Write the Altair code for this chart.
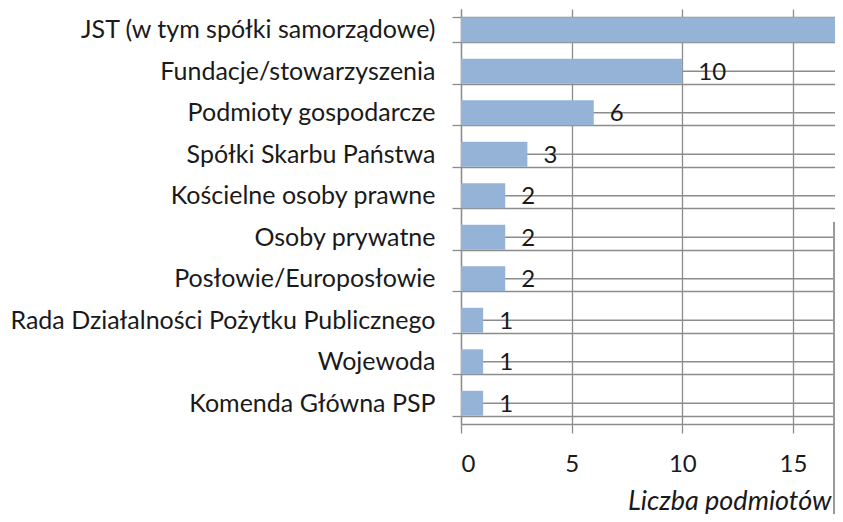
import altair as alt
import pandas as pd

categories = [
    "JST (w tym spółki samorządowe)",
    "Fundacje/stowarzyszenia",
    "Podmioty gospodarcze",
    "Spółki Skarbu Państwa",
    "Kościelne osoby prawne",
    "Osoby prywatne",
    "Posłowie/Europosłowie",
    "Rada Działalności Pożytku Publicznego",
    "Wojewoda",
    "Komenda Główna PSP",
]
values = [22, 10, 6, 3, 2, 2, 2, 1, 1, 1]
x_ticks = [0, 5, 10, 15]
x_title = "Liczba podmiotów"
x_max = 16.9

df = pd.DataFrame({"cat": categories, "val": values})

FONT = "Lato"
GRID = "#8c8c8c"
TEXT = "#1a1a1a"
BAR = "#95B3D7"

W, H = 374, 415

x_scale = alt.Scale(domain=[0, x_max], nice=False, zero=True)
y_scale = alt.Scale(domain=categories, paddingInner=0.4)

x_axis = alt.Axis(
    values=x_ticks, grid=True, gridColor=GRID, gridWidth=1.3,
    domainColor=GRID, domainWidth=1.3, tickColor=GRID, tickWidth=1.3, tickSize=9,
    labelFont=FONT, labelFontSize=24, labelColor=TEXT, labelPadding=19,
    title=x_title, titleFont=FONT, titleFontSize=27, titleFontStyle="italic",
    titleFontWeight="normal", titleColor=TEXT, titleAlign="right", titleAnchor="end",
    titleX=370, titleY=85, titleBaseline="alphabetic",
)
y_axis = alt.Axis(
    title=None, grid=True, tickBand="extent", gridColor=GRID, gridWidth=1.3,
    domainColor=GRID, domainWidth=1.3, tickColor=GRID, tickWidth=1.3, tickSize=9,
    labelFont=FONT, labelFontSize=25, labelColor=TEXT, labelPadding=17,
    labelLimit=0,
)

base = alt.Chart(df)

center_lines = base.mark_rule(color=GRID, strokeWidth=1.3).encode(
    y=alt.Y("cat:N", scale=y_scale, axis=y_axis, sort=categories),
)

bars = base.mark_bar(color=BAR, clip=True).encode(
    x=alt.X("val:Q", scale=x_scale, axis=x_axis),
    y=alt.Y("cat:N", scale=y_scale, sort=categories),
)

labels = base.transform_filter(
    alt.datum.val < x_max - 1
).mark_text(
    align="left", baseline="middle", dx=16, dy=1.5, font=FONT, fontSize=24,
    color=TEXT, clip=True,
).encode(
    x=alt.X("val:Q", scale=x_scale),
    y=alt.Y("cat:N", scale=y_scale, sort=categories),
    text=alt.Text("val:Q"),
)

edge_shadow = base.mark_rect(color="#e6e6e6", clip=False).encode(
    x=alt.value(374), x2=alt.value(380), y=alt.value(213), y2=alt.value(520),
)
edge_line = base.mark_rule(color="#9a9a9a", strokeWidth=1.5, clip=False).encode(
    x=alt.value(373), y=alt.value(213), y2=alt.value(520),
)

chart = (
    alt.layer(center_lines, bars, labels, edge_shadow, edge_line)
    .properties(
        width=W, height=H,
        autosize=alt.AutoSizeParams(type="none"),
        padding={"left": 453, "top": 1, "right": 0, "bottom": 90},
        background="white",
    )
    .configure_view(stroke=None)
)

chart.save("out.html", embed_options={"renderer": "svg", "actions": False})
